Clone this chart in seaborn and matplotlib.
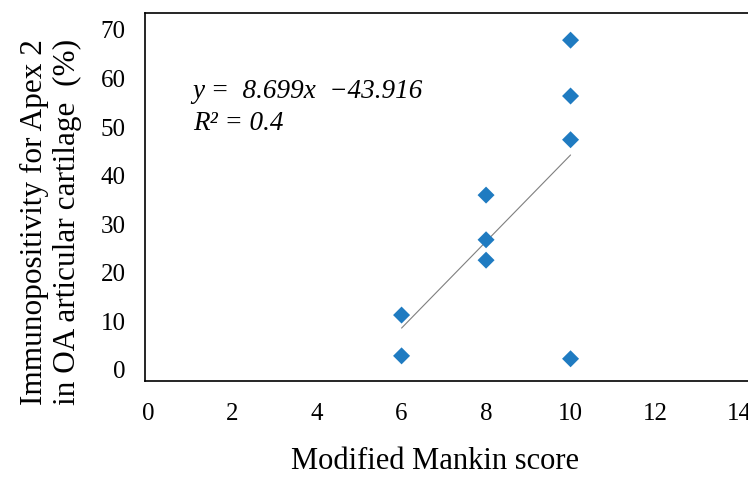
import numpy as np
import pandas as pd
import seaborn as sns
import matplotlib.pyplot as plt

# Mankin score vs Apex 2 immunopositivity
mankin_score = [6, 6, 8, 8, 8, 10, 10, 10, 10]
apex2_percent = [11.3, 2.9, 36.0, 26.8, 22.6, 67.9, 56.4, 47.4, 2.3]
x_ticks = [0, 2, 4, 6, 8, 10, 12, 14]
y_ticks = [0, 10, 20, 30, 40, 50, 60, 70]

df = pd.DataFrame({"score": mankin_score, "apex2": apex2_percent})

sns.set_style("white")
plt.rcParams["font.family"] = ["Liberation Serif", "DejaVu Serif"]
plt.rcParams["text.color"] = "black"

fig = plt.figure(figsize=(7.48, 4.8), dpi=100)
ax = fig.add_axes([0.194, 0.206, 0.806, 0.767])

sns.regplot(data=df, x="score", y="apex2", ax=ax, ci=None,
            marker="D", color="#1F7BC1",
            scatter_kws={"s": 75, "edgecolor": "none", "alpha": 1, "zorder": 3},
            line_kws={"color": "#7f7f7f", "lw": 0.8, "zorder": 2})

ax.set_xlim(-0.07, 14.2)
ax.set_ylim(-2.3, 73.5)
ax.set_xticks(x_ticks)
ax.set_yticks(y_ticks)
ax.tick_params(axis="both", length=0, labelsize=18, colors="black")
ax.tick_params(axis="x", pad=16)
ax.tick_params(axis="y", pad=14)

for side in ["left", "top", "bottom"]:
    ax.spines[side].set_color("black")
    ax.spines[side].set_linewidth(1.2)
ax.spines["right"].set_visible(False)

ax.set_xlabel("")
ax.set_ylabel("")

# two-line y label placed by hand
fig.text(0.068, 0.537, "Immunopositivity for Apex 2\nin OA articular cartilage  (%)",
         fontsize=22.5, linespacing=1.15, rotation=90, ha="center", va="center")

fig.text(0.582, 0.022, "Modified Mankin score", fontsize=22, ha="center")

ax.text(0.079, 0.82, "y =  8.699x  \u221243.916", transform=ax.transAxes,
        fontsize=19.5, style="italic", va="top")
ax.text(0.079, 0.735, "R\u00b2 = 0.4", transform=ax.transAxes,
        fontsize=19.5, style="italic", va="top")

fig.savefig("out.png", dpi=100)
